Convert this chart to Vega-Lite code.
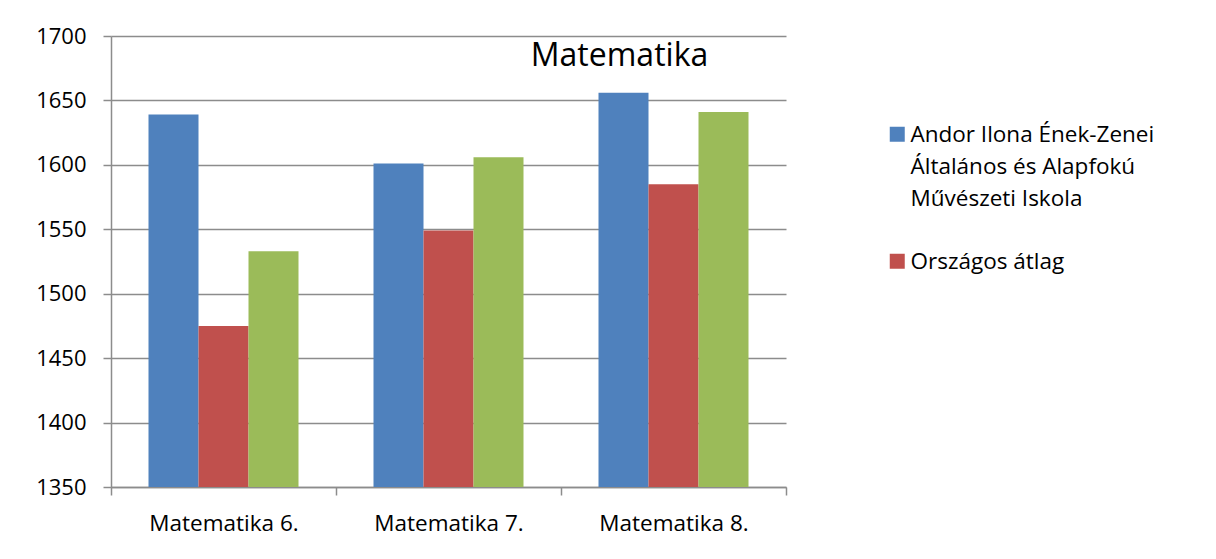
{
  "$schema": "https://vega.github.io/schema/vega-lite/v6.json",
  "width": 675,
  "height": 451,
  "autosize": {"type": "none"},
  "padding": {"left": 111, "top": 36, "right": 430, "bottom": 72},
  "background": "white",
  "config": {"view": {"stroke": null}, "font": "Open Sans"},
  "title": {"text": "Matematika", "fontSize": 32, "fontWeight": "normal", "font": "Open Sans", "color": "#000000", "anchor": "middle", "frame": "group", "dx": 171, "offset": -73, "baseline": "alphabetic"},
  "data": {"values": [
    {"kat": "Matematika 6.", "sorozat": "Andor Ilona Ének-Zenei Általános és Alapfokú Művészeti Iskola", "ertek": 1639},
    {"kat": "Matematika 6.", "sorozat": "Országos átlag", "ertek": 1475},
    {"kat": "Matematika 6.", "sorozat": "Harmadik adatsor", "ertek": 1533},
    {"kat": "Matematika 7.", "sorozat": "Andor Ilona Ének-Zenei Általános és Alapfokú Művészeti Iskola", "ertek": 1601},
    {"kat": "Matematika 7.", "sorozat": "Országos átlag", "ertek": 1549},
    {"kat": "Matematika 7.", "sorozat": "Harmadik adatsor", "ertek": 1606},
    {"kat": "Matematika 8.", "sorozat": "Andor Ilona Ének-Zenei Általános és Alapfokú Művészeti Iskola", "ertek": 1656},
    {"kat": "Matematika 8.", "sorozat": "Országos átlag", "ertek": 1585},
    {"kat": "Matematika 8.", "sorozat": "Harmadik adatsor", "ertek": 1641}
  ]},
  "mark": {"type": "bar", "clip": true},
  "encoding": {
    "x": {
      "field": "kat", "type": "nominal", "sort": null,
      "scale": {"paddingInner": 0, "paddingOuter": 0},
      "axis": {"title": null, "labelAngle": 0, "tickBand": "extent", "grid": false,
        "domainColor": "#8c8c8c", "domainWidth": 1.5, "tickColor": "#8c8c8c", "tickWidth": 1.5, "tickSize": 8,
        "labelFontSize": 22.5, "labelColor": "#000000", "labelPadding": 17, "labelFont": "Open Sans"}
    },
    "xOffset": {"field": "sorozat", "type": "nominal", "sort": null, "scale": {"paddingInner": 0, "paddingOuter": 0.75}},
    "y": {
      "field": "ertek", "type": "quantitative",
      "scale": {"domain": [1350, 1700], "zero": false, "nice": false},
      "axis": {"title": null, "format": "d", "values": [1350, 1400, 1450, 1500, 1550, 1600, 1650, 1700], "grid": true,
        "gridColor": "#8c8c8c", "gridWidth": 1.5, "domainColor": "#8c8c8c", "domainWidth": 1.5,
        "tickColor": "#8c8c8c", "tickWidth": 1.5, "tickSize": 8,
        "labelFontSize": 22, "labelColor": "#000000", "labelPadding": 17, "labelFont": "Open Sans"}
    },
    "color": {
      "field": "sorozat", "type": "nominal", "sort": null,
      "scale": {"domain": ["Andor Ilona Ének-Zenei Általános és Alapfokú Művészeti Iskola", "Országos átlag", "Harmadik adatsor"], "range": ["#4F81BD", "#C0504D", "#9BBB59"]},
      "legend": {
        "title": null, "orient": "none", "legendX": 775, "legendY": 87, "padding": 0,
        "values": ["Andor Ilona Ének-Zenei Általános és Alapfokú Művészeti Iskola", "Országos átlag"],
        "labelExpr": "datum.label == 'Országos átlag' ? datum.label : ['Andor Ilona Ének-Zenei', 'Általános és Alapfokú', 'Művészeti Iskola']",
        "symbolType": "square", "symbolSize": 225, "symbolStrokeWidth": 0,
        "labelFontSize": 22.5, "labelFont": "Open Sans", "labelColor": "#000000", "labelLimit": 400, "labelOffset": 2,
        "labelBaseline": "alphabetic", "rowPadding": 39,
        "encode": {"labels": {"update": {"lineHeight": {"value": 32}, "dy": {"value": 8}}}}
      }
    }
  }
}
